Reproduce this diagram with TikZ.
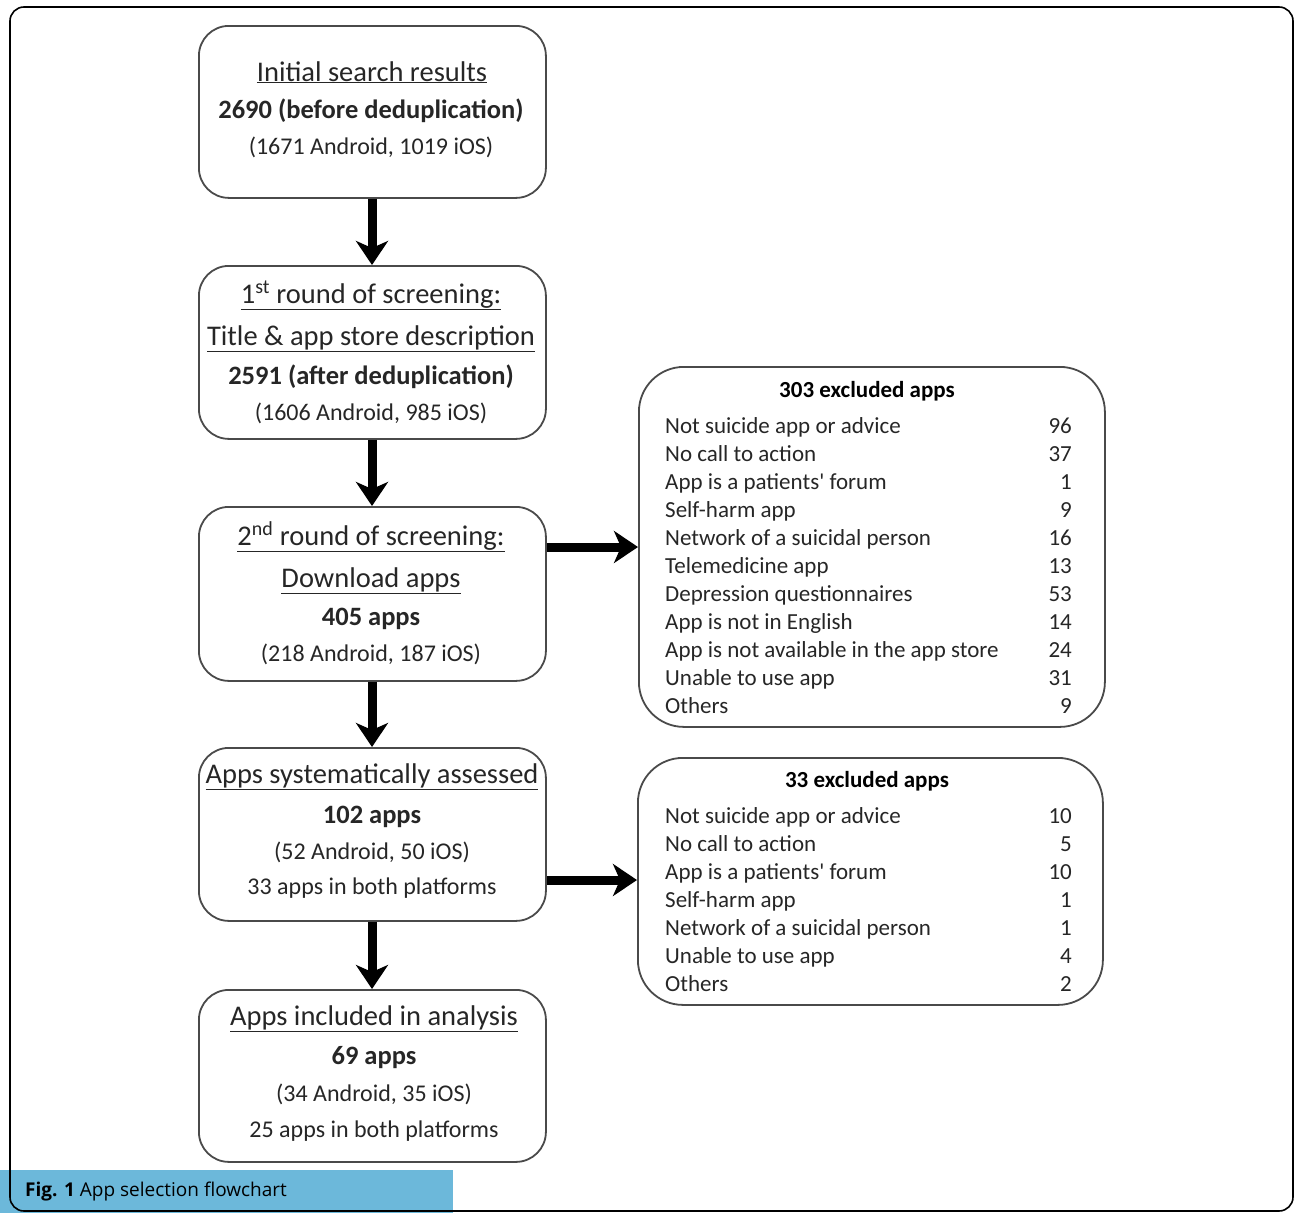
\documentclass[tikz,border=0pt]{standalone}
\usepackage{fontspec}
\setmainfont{Carlito}
\newfontfamily\capfont{Open Sans}
\usetikzlibrary{arrows.meta}
\definecolor{boxgray}{HTML}{4A4A4A}
\definecolor{capblue}{HTML}{6CB8DA}
\begin{document}
\begin{tikzpicture}[x=1pt,y=-1pt,
  box/.style={draw=boxgray, line width=1.8pt, rounded corners=30pt, inner sep=0pt, anchor=north west},
  xbox/.style={draw=boxgray, line width=1.8pt, rounded corners=45pt, inner sep=0pt, anchor=north west},
  txt/.style={inner sep=0pt, anchor=base, font=\fontsize{24}{28}\selectfont, text=black!85},
  htxt/.style={txt, font=\fontsize{28.5}{32}\selectfont},
  btxt/.style={txt, font=\fontsize{26.5}{30}\selectfont\bfseries},
  row/.style={inner sep=0pt, anchor=base west, font=\fontsize{23}{26}\selectfont, text=black!85},
  num/.style={inner sep=0pt, anchor=base east, font=\fontsize{23}{26}\selectfont, text=black!85},
  ttl/.style={inner sep=0pt, anchor=base, font=\fontsize{23}{26}\selectfont\bfseries},
  bigarrow/.style={line width=9pt, -{Stealth[length=24pt, width=32pt, inset=7pt]}}
]
\useasboundingbox (0,0) rectangle (1295,1213);

% caption bar and frame
\fill[capblue] (0,1170) rectangle (453,1213);
\draw[line width=1.6pt, rounded corners=14pt] (10,7) rectangle (1293,1211);
\node[inner sep=0pt, anchor=base west, font=\capfont\fontsize{19}{22}\selectfont] (cap) at (25,1196)
  {\textbf{Fig. 1} App selection flowchart};

% left boxes
\node[box, minimum width=347pt, minimum height=172pt] (b1) at (198,25) {};
\node[box, minimum width=347pt, minimum height=173pt] (b2) at (198,265) {};
\node[box, minimum width=347pt, minimum height=174pt] (b3) at (198,506) {};
\node[box, minimum width=347pt, minimum height=173pt] (b4) at (198,747) {};
\node[box, minimum width=347pt, minimum height=172pt] (b5) at (198,989) {};

\node[htxt] (b1a) at (372,81) {\underline{Initial search results}};
\node[btxt] (b1b) at (371,118) {2690 (before deduplication)};
\node[txt] (b1c) at (371,154) {(1671 Android, 1019 iOS)};

\node[htxt] (b2a) at (371,303) {\underline{1\textsuperscript{st} round of screening:}};
\node[htxt] (b2b) at (371,345) {\underline{Title \& app store description}};
\node[btxt] (b2c) at (371,384) {2591 (after deduplication)};
\node[txt] (b2d) at (371,420) {(1606 Android, 985 iOS)};

\node[htxt] (b3a) at (371,545) {\underline{2\textsuperscript{nd} round of screening:}};
\node[htxt] (b3b) at (371,587) {\underline{Download apps}};
\node[btxt] (b3c) at (371,625) {405 apps};
\node[txt] (b3d) at (371,661) {(218 Android, 187 iOS)};

\node[htxt] (b4a) at (372,783) {\underline{Apps systematically assessed}};
\node[btxt] (b4b) at (372,823) {102 apps};
\node[txt] (b4c) at (372,859) {(52 Android, 50 iOS)};
\node[txt] (b4d) at (372,894) {33 apps in both platforms};

\node[htxt] (b5a) at (374,1025) {\underline{Apps included in analysis}};
\node[btxt] (b5b) at (374,1064) {69 apps};
\node[txt] (b5c) at (374,1101) {(34 Android, 35 iOS)};
\node[txt] (b5d) at (374,1137) {25 apps in both platforms};

% right boxes
\node[xbox, minimum width=466pt, minimum height=360pt] (r1) at (638,366) {};
\node[xbox, minimum width=465pt, minimum height=247pt] (r2) at (637,757) {};

\node[ttl] (r1t) at (867,397) {303 excluded apps};
\foreach \lab/\n [count=\i from 0] in {Not suicide app or advice/96, No call to action/37,
  App is a patients\textquotesingle\ forum/1, Self-harm app/9, Network of a suicidal person/16,
  Telemedicine app/13, Depression questionnaires/53, App is not in English/14,
  App is not available in the app store/24, Unable to use app/31, Others/9}{
  \node[row] (r1l\i) at (665,433+28*\i) {\lab};
  \node[num] (r1n\i) at (1072,433+28*\i) {\n};
}

\node[ttl] (r2t) at (867,787) {33 excluded apps};
\foreach \lab/\n [count=\i from 0] in {Not suicide app or advice/10, No call to action/5,
  App is a patients\textquotesingle\ forum/10, Self-harm app/1, Network of a suicidal person/1,
  Unable to use app/4, Others/2}{
  \node[row] (r2l\i) at (665,823+28*\i) {\lab};
  \node[num] (r2n\i) at (1072,823+28*\i) {\n};
}

% arrows
\draw[bigarrow] (b1.south -| 372,0) -- (b2.north -| 372,0);
\draw[bigarrow] (b2.south -| 372,0) -- (b3.north -| 372,0);
\draw[bigarrow] (b3.south -| 372,0) -- (b4.north -| 372,0);
\draw[bigarrow] (b4.south -| 372,0) -- (b5.north -| 372,0);
\draw[bigarrow] (b3.east |- 0,547) -- (r1.west |- 0,547);
\draw[bigarrow] (b4.east |- 0,880) -- (r2.west |- 0,880);
\end{tikzpicture}
\end{document}
